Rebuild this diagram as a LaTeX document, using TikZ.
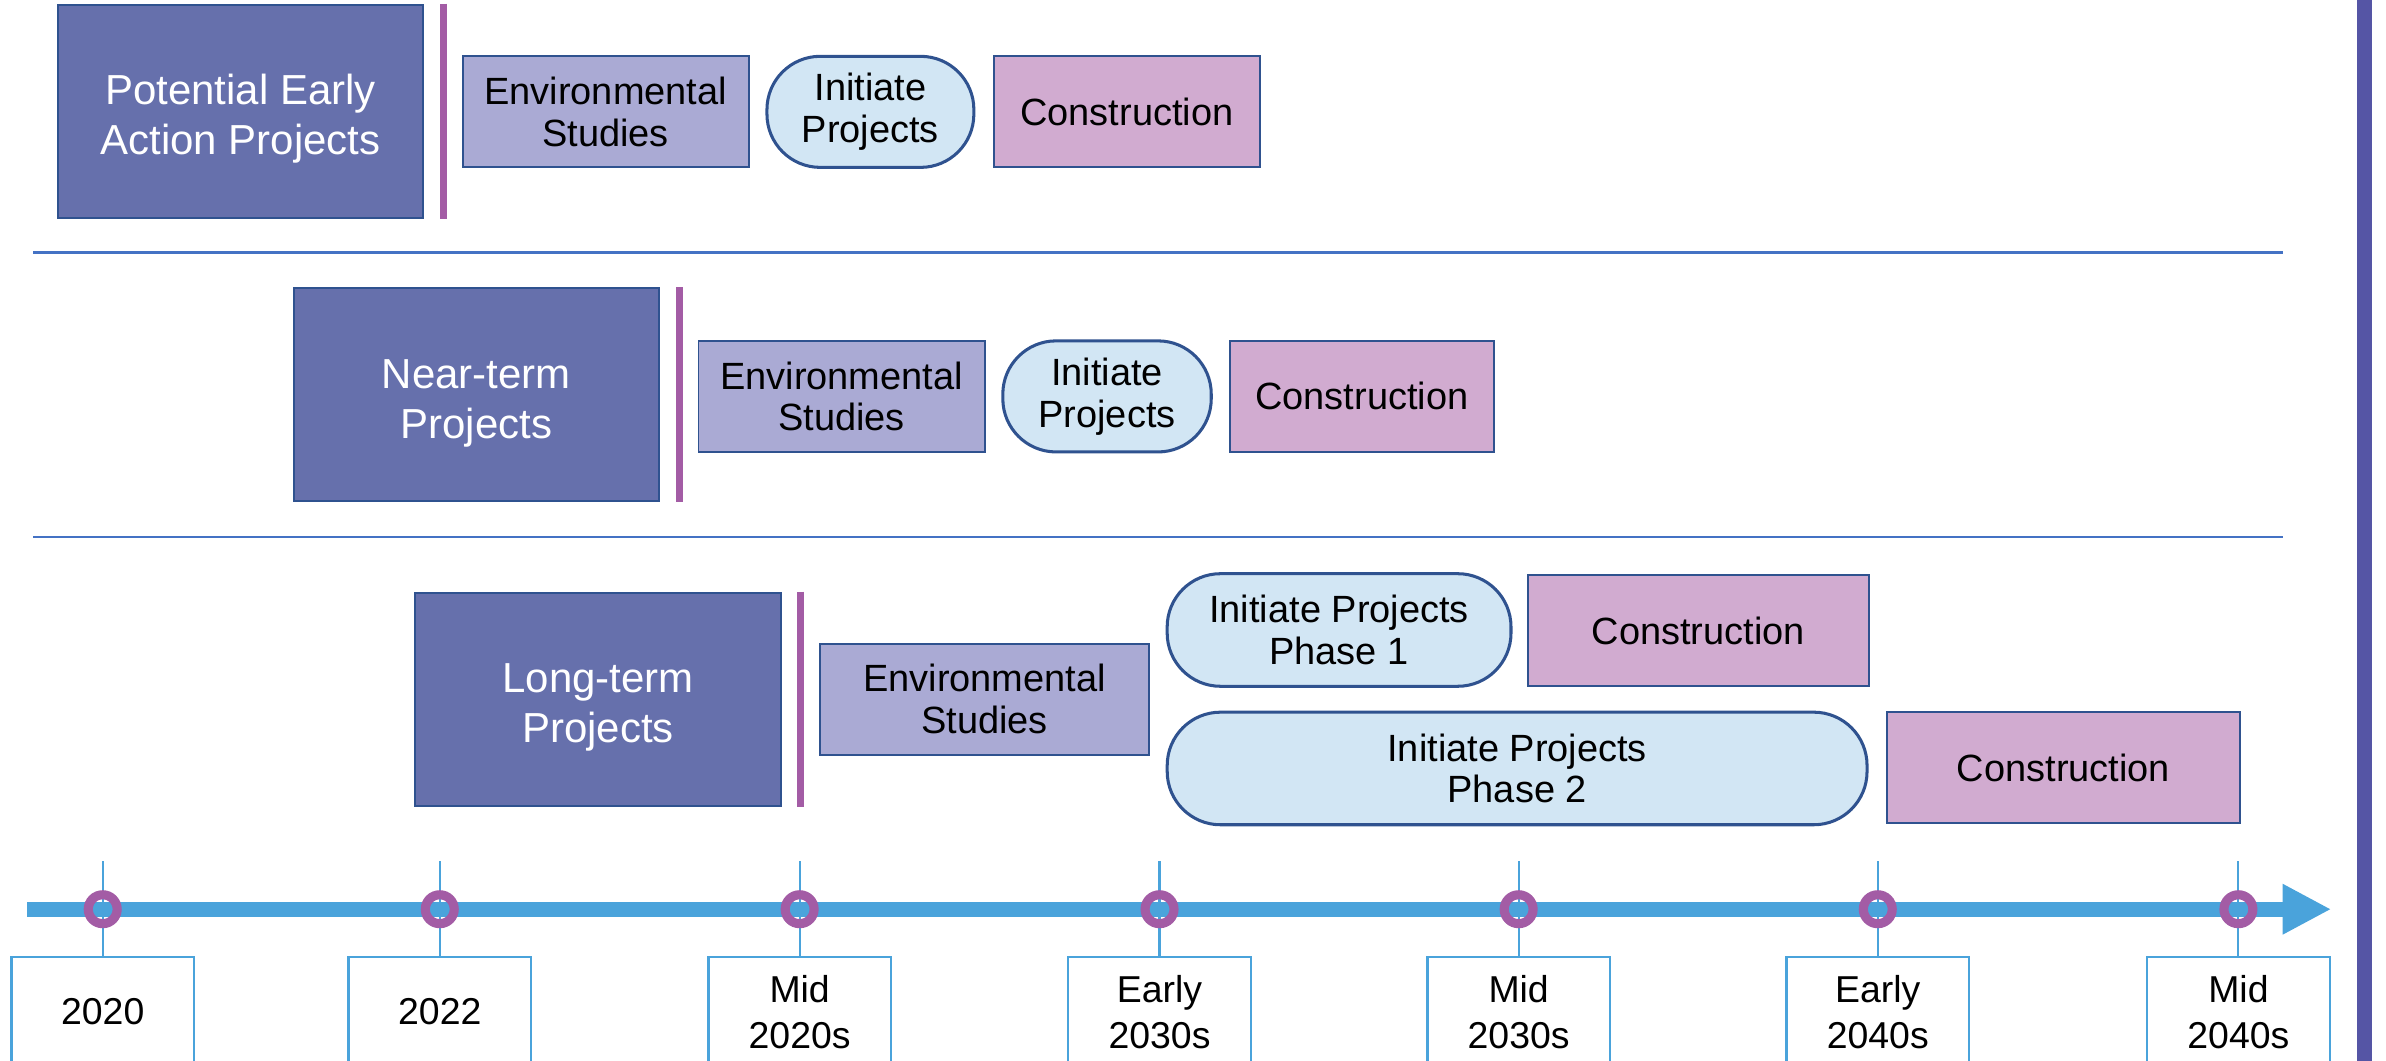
\documentclass[tikz,border=0pt]{standalone}
\usepackage{fontspec}
\setmainfont{Liberation Sans}
\usetikzlibrary{arrows.meta}

\definecolor{grpfill}{RGB}{102,112,172}
\definecolor{edgeblue}{RGB}{47,82,143}
\definecolor{envfill}{RGB}{170,170,212}
\definecolor{initfill}{RGB}{210,230,244}
\definecolor{consfill}{RGB}{209,171,208}
\definecolor{barpurple}{RGB}{163,92,165}
\definecolor{lineblue}{RGB}{74,163,219}
\definecolor{sepblue}{RGB}{68,114,196}
\definecolor{sidebar}{RGB}{85,85,165}

\newcommand{\grppad}{\rule{0pt}{17pt}}

\tikzset{
  grpbox/.style={draw=edgeblue, line width=0.026cm, fill=grpfill, text=white, align=center,
    minimum width=4.8cm, minimum height=2.8cm, font=\fontsize{15.7}{18.8}\selectfont},
  stagebox/.style={draw=edgeblue, line width=0.026cm, align=center, minimum height=1.46cm,
    font=\fontsize{14.2}{15.6}\selectfont},
  envbox/.style={stagebox, fill=envfill},
  consbox/.style={stagebox, fill=consfill},
  initbox/.style={stagebox, fill=initfill, line width=0.04cm, rounded corners=0.7cm},
  divider/.style={draw=barpurple, line width=0.09cm},
  rowsep/.style={draw=sepblue, line width=0.03cm},
  timeline/.style={draw=lineblue, line width=0.2cm, -{Triangle[length=0.64cm,width=0.62cm]}},
  tickline/.style={draw=lineblue, line width=0.028cm},
  datebox/.style={draw=lineblue, line width=0.03cm, fill=white, align=center,
    minimum width=2.4cm, minimum height=1.44cm, font=\fontsize{14}{17}\selectfont},
  milestone/.style={circle, draw=barpurple, line width=0.12cm, minimum size=0.38cm, inner sep=0pt}
}

\begin{document}
\begin{tikzpicture}[x=0.02cm, y=-0.02cm]
\useasboundingbox (0,0) rectangle (1568,697);
\clip (0,0) rectangle (1568,697);

% row separators
\coordinate (s1a) at (22,166);  \coordinate (s1b) at (1500,166);
\coordinate (s2a) at (22,353);  \coordinate (s2b) at (1500,353);
\draw[rowsep] (s1a) -- (s1b);
\draw[rowsep] (s2a) -- (s2b);

% potential early action
\node[grpbox] (grp1) at (158,73) {\grppad Potential Early\\Action Projects};
\draw[divider] ([xshift=0.26cm]grp1.north east) -- ([xshift=0.26cm]grp1.south east);
\node[envbox, minimum width=3.76cm] (env1) at (398,73.5) {Environmental\\Studies};
\node[initbox, minimum width=2.72cm] (init1) at (572,73.5) {Initiate\\Projects};
\node[consbox, minimum width=3.5cm] (cons1) at (740.5,73.5) {Construction};

% near-term
\node[grpbox] (grp2) at (313,259.5) {\grppad Near-term\\Projects};
\draw[divider] ([xshift=0.26cm]grp2.north east) -- ([xshift=0.26cm]grp2.south east);
\node[envbox, minimum width=3.76cm] (env2) at (553,260.5) {Environmental\\Studies};
\node[initbox, minimum width=2.74cm] (init2) at (727.5,260.5) {Initiate\\Projects};
\node[consbox, minimum width=3.48cm] (cons2) at (895,260.5) {Construction};

% long-term
\node[grpbox] (grp3) at (393,459.5) {\grppad Long-term\\Projects};
\draw[divider] ([xshift=0.25cm]grp3.north east) -- ([xshift=0.25cm]grp3.south east);
\node[envbox, minimum width=4.32cm] (env3) at (647,459.5) {Environmental\\Studies};
\node[initbox, minimum width=4.52cm, minimum height=1.48cm] (init3a) at (880,414) {Initiate Projects\\Phase 1};
\node[consbox, minimum width=4.48cm] (cons3a) at (1116,414.5) {Construction};
\node[initbox, minimum width=9.2cm, minimum height=1.48cm] (init3b) at (997,505) {Initiate Projects\\Phase 2};
\node[consbox, minimum width=4.64cm] (cons3b) at (1356,504.5) {Construction};

% date labels
\node[datebox] (d1) at (67.5,665) {2020};
\node[datebox] (d2) at (289,665) {2022};
\node[datebox] (d3) at (525.5,665) {Mid\\2020s};
\node[datebox] (d4) at (762,665) {Early\\2030s};
\node[datebox] (d5) at (998,665) {Mid\\2030s};
\node[datebox] (d6) at (1234,665) {Early\\2040s};
\node[datebox] (d7) at (1471,665) {Mid\\2040s};

% ticks
\coordinate (k1) at (67.5,566);
\coordinate (k2) at (289,566);
\coordinate (k3) at (525.5,566);
\coordinate (k4) at (762,566);
\coordinate (k5) at (998,566);
\coordinate (k6) at (1234,566);
\coordinate (k7) at (1471,566);
\draw[tickline] (k1) -- (d1.north);
\draw[tickline] (k2) -- (d2.north);
\draw[tickline] (k3) -- (d3.north);
\draw[tickline] (k4) -- (d4.north);
\draw[tickline] (k5) -- (d5.north);
\draw[tickline] (k6) -- (d6.north);
\draw[tickline] (k7) -- (d7.north);

% timeline
\coordinate (tl0) at (18,597.5);
\coordinate (tl1) at (1532,597.5);
\draw[timeline] (tl0) -- (tl1);

% milestones
\node[milestone] (m1) at (67.5,597.5) {};
\node[milestone] (m2) at (289,597.5) {};
\node[milestone] (m3) at (525.5,597.5) {};
\node[milestone] (m4) at (762,597.5) {};
\node[milestone] (m5) at (998,597.5) {};
\node[milestone] (m6) at (1234,597.5) {};
\node[milestone] (m7) at (1471,597.5) {};

% side bar
\fill[sidebar] (1549,0) rectangle (1559,697);
\end{tikzpicture}
\end{document}
